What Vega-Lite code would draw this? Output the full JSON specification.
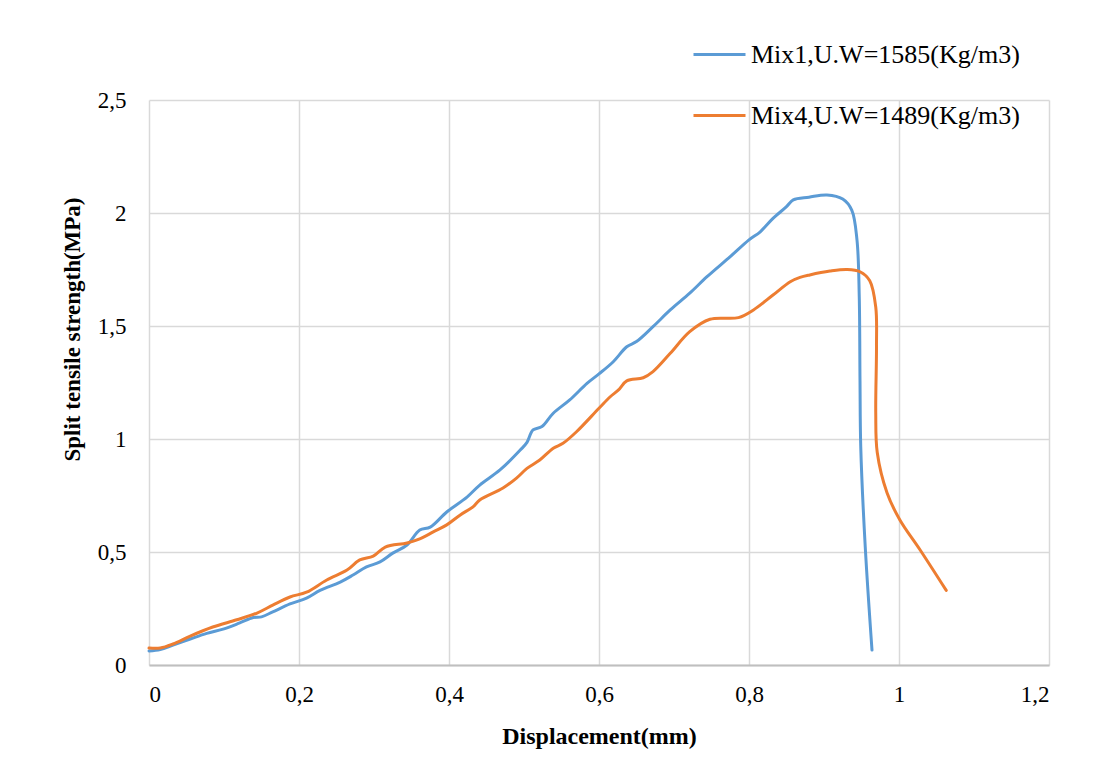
{
  "$schema": "https://vega.github.io/schema/vega-lite/v6.json",
  "autosize": {"type": "none"},
  "width": 900,
  "height": 565,
  "padding": {"left": 149, "top": 100, "right": 64, "bottom": 106},
  "background": "white",
  "config": {
    "view": {"stroke": null},
    "font": "Liberation Serif",
    "axis": {
      "labelFont": "Liberation Serif",
      "labelFontSize": 23,
      "labelColor": "#000000",
      "titleFont": "Liberation Serif",
      "titleFontWeight": "bold",
      "titleColor": "#000000",
      "gridColor": "#d9d9d9",
      "gridWidth": 1.5,
      "ticks": false,
      "tickSize": 0
    }
  },
  "data": {
    "values": [
      {"series": "Mix1,U.W=1585(Kg/m3)", "i": 1, "d": 0, "s": 0.062},
      {"series": "Mix1,U.W=1585(Kg/m3)", "i": 2, "d": 0.015, "s": 0.068},
      {"series": "Mix1,U.W=1585(Kg/m3)", "i": 3, "d": 0.032, "s": 0.088},
      {"series": "Mix1,U.W=1585(Kg/m3)", "i": 4, "d": 0.055, "s": 0.115},
      {"series": "Mix1,U.W=1585(Kg/m3)", "i": 5, "d": 0.077, "s": 0.14},
      {"series": "Mix1,U.W=1585(Kg/m3)", "i": 6, "d": 0.1, "s": 0.16},
      {"series": "Mix1,U.W=1585(Kg/m3)", "i": 7, "d": 0.121, "s": 0.186},
      {"series": "Mix1,U.W=1585(Kg/m3)", "i": 8, "d": 0.139, "s": 0.21},
      {"series": "Mix1,U.W=1585(Kg/m3)", "i": 9, "d": 0.15, "s": 0.213},
      {"series": "Mix1,U.W=1585(Kg/m3)", "i": 10, "d": 0.165, "s": 0.235},
      {"series": "Mix1,U.W=1585(Kg/m3)", "i": 11, "d": 0.188, "s": 0.27},
      {"series": "Mix1,U.W=1585(Kg/m3)", "i": 12, "d": 0.21, "s": 0.296},
      {"series": "Mix1,U.W=1585(Kg/m3)", "i": 13, "d": 0.228, "s": 0.33},
      {"series": "Mix1,U.W=1585(Kg/m3)", "i": 14, "d": 0.255, "s": 0.367},
      {"series": "Mix1,U.W=1585(Kg/m3)", "i": 15, "d": 0.272, "s": 0.398},
      {"series": "Mix1,U.W=1585(Kg/m3)", "i": 16, "d": 0.29, "s": 0.434},
      {"series": "Mix1,U.W=1585(Kg/m3)", "i": 17, "d": 0.308, "s": 0.456},
      {"series": "Mix1,U.W=1585(Kg/m3)", "i": 18, "d": 0.325, "s": 0.495},
      {"series": "Mix1,U.W=1585(Kg/m3)", "i": 19, "d": 0.344, "s": 0.531},
      {"series": "Mix1,U.W=1585(Kg/m3)", "i": 20, "d": 0.361, "s": 0.597},
      {"series": "Mix1,U.W=1585(Kg/m3)", "i": 21, "d": 0.375, "s": 0.61},
      {"series": "Mix1,U.W=1585(Kg/m3)", "i": 22, "d": 0.397, "s": 0.677},
      {"series": "Mix1,U.W=1585(Kg/m3)", "i": 23, "d": 0.424, "s": 0.743},
      {"series": "Mix1,U.W=1585(Kg/m3)", "i": 24, "d": 0.441, "s": 0.796},
      {"series": "Mix1,U.W=1585(Kg/m3)", "i": 25, "d": 0.468, "s": 0.863},
      {"series": "Mix1,U.W=1585(Kg/m3)", "i": 26, "d": 0.495, "s": 0.951},
      {"series": "Mix1,U.W=1585(Kg/m3)", "i": 27, "d": 0.504, "s": 0.985},
      {"series": "Mix1,U.W=1585(Kg/m3)", "i": 28, "d": 0.512, "s": 1.04},
      {"series": "Mix1,U.W=1585(Kg/m3)", "i": 29, "d": 0.524, "s": 1.055},
      {"series": "Mix1,U.W=1585(Kg/m3)", "i": 30, "d": 0.539, "s": 1.114},
      {"series": "Mix1,U.W=1585(Kg/m3)", "i": 31, "d": 0.561, "s": 1.173},
      {"series": "Mix1,U.W=1585(Kg/m3)", "i": 32, "d": 0.584, "s": 1.246},
      {"series": "Mix1,U.W=1585(Kg/m3)", "i": 33, "d": 0.6, "s": 1.288},
      {"series": "Mix1,U.W=1585(Kg/m3)", "i": 34, "d": 0.619, "s": 1.342},
      {"series": "Mix1,U.W=1585(Kg/m3)", "i": 35, "d": 0.637, "s": 1.408},
      {"series": "Mix1,U.W=1585(Kg/m3)", "i": 36, "d": 0.65, "s": 1.431},
      {"series": "Mix1,U.W=1585(Kg/m3)", "i": 37, "d": 0.672, "s": 1.497},
      {"series": "Mix1,U.W=1585(Kg/m3)", "i": 38, "d": 0.695, "s": 1.571},
      {"series": "Mix1,U.W=1585(Kg/m3)", "i": 39, "d": 0.721, "s": 1.645},
      {"series": "Mix1,U.W=1585(Kg/m3)", "i": 40, "d": 0.744, "s": 1.718},
      {"series": "Mix1,U.W=1585(Kg/m3)", "i": 41, "d": 0.775, "s": 1.807},
      {"series": "Mix1,U.W=1585(Kg/m3)", "i": 42, "d": 0.8, "s": 1.881},
      {"series": "Mix1,U.W=1585(Kg/m3)", "i": 43, "d": 0.815, "s": 1.917},
      {"series": "Mix1,U.W=1585(Kg/m3)", "i": 44, "d": 0.832, "s": 1.976},
      {"series": "Mix1,U.W=1585(Kg/m3)", "i": 45, "d": 0.85, "s": 2.028},
      {"series": "Mix1,U.W=1585(Kg/m3)", "i": 46, "d": 0.859, "s": 2.058},
      {"series": "Mix1,U.W=1585(Kg/m3)", "i": 47, "d": 0.88, "s": 2.07},
      {"series": "Mix1,U.W=1585(Kg/m3)", "i": 48, "d": 0.904, "s": 2.08},
      {"series": "Mix1,U.W=1585(Kg/m3)", "i": 49, "d": 0.925, "s": 2.062},
      {"series": "Mix1,U.W=1585(Kg/m3)", "i": 50, "d": 0.937, "s": 2.013},
      {"series": "Mix1,U.W=1585(Kg/m3)", "i": 51, "d": 0.944, "s": 1.88},
      {"series": "Mix1,U.W=1585(Kg/m3)", "i": 52, "d": 0.947, "s": 1.63},
      {"series": "Mix1,U.W=1585(Kg/m3)", "i": 53, "d": 0.948, "s": 1.26},
      {"series": "Mix1,U.W=1585(Kg/m3)", "i": 54, "d": 0.949, "s": 0.965},
      {"series": "Mix1,U.W=1585(Kg/m3)", "i": 55, "d": 0.955, "s": 0.522},
      {"series": "Mix1,U.W=1585(Kg/m3)", "i": 56, "d": 0.964, "s": 0.066},

      {"series": "Mix4,U.W=1489(Kg/m3)", "i": 1, "d": 0, "s": 0.075},
      {"series": "Mix4,U.W=1489(Kg/m3)", "i": 2, "d": 0.015, "s": 0.075},
      {"series": "Mix4,U.W=1489(Kg/m3)", "i": 3, "d": 0.032, "s": 0.093},
      {"series": "Mix4,U.W=1489(Kg/m3)", "i": 4, "d": 0.055, "s": 0.128},
      {"series": "Mix4,U.W=1489(Kg/m3)", "i": 5, "d": 0.085, "s": 0.168},
      {"series": "Mix4,U.W=1489(Kg/m3)", "i": 6, "d": 0.117, "s": 0.2},
      {"series": "Mix4,U.W=1489(Kg/m3)", "i": 7, "d": 0.144, "s": 0.23},
      {"series": "Mix4,U.W=1489(Kg/m3)", "i": 8, "d": 0.165, "s": 0.265},
      {"series": "Mix4,U.W=1489(Kg/m3)", "i": 9, "d": 0.188, "s": 0.301},
      {"series": "Mix4,U.W=1489(Kg/m3)", "i": 10, "d": 0.21, "s": 0.322},
      {"series": "Mix4,U.W=1489(Kg/m3)", "i": 11, "d": 0.237, "s": 0.376},
      {"series": "Mix4,U.W=1489(Kg/m3)", "i": 12, "d": 0.264, "s": 0.42},
      {"series": "Mix4,U.W=1489(Kg/m3)", "i": 13, "d": 0.281, "s": 0.465},
      {"series": "Mix4,U.W=1489(Kg/m3)", "i": 14, "d": 0.299, "s": 0.482},
      {"series": "Mix4,U.W=1489(Kg/m3)", "i": 15, "d": 0.315, "s": 0.522},
      {"series": "Mix4,U.W=1489(Kg/m3)", "i": 16, "d": 0.344, "s": 0.54},
      {"series": "Mix4,U.W=1489(Kg/m3)", "i": 17, "d": 0.361, "s": 0.558},
      {"series": "Mix4,U.W=1489(Kg/m3)", "i": 18, "d": 0.379, "s": 0.589},
      {"series": "Mix4,U.W=1489(Kg/m3)", "i": 19, "d": 0.397, "s": 0.62},
      {"series": "Mix4,U.W=1489(Kg/m3)", "i": 20, "d": 0.415, "s": 0.664},
      {"series": "Mix4,U.W=1489(Kg/m3)", "i": 21, "d": 0.432, "s": 0.7},
      {"series": "Mix4,U.W=1489(Kg/m3)", "i": 22, "d": 0.441, "s": 0.73},
      {"series": "Mix4,U.W=1489(Kg/m3)", "i": 23, "d": 0.472, "s": 0.783},
      {"series": "Mix4,U.W=1489(Kg/m3)", "i": 24, "d": 0.49, "s": 0.827},
      {"series": "Mix4,U.W=1489(Kg/m3)", "i": 25, "d": 0.504, "s": 0.87},
      {"series": "Mix4,U.W=1489(Kg/m3)", "i": 26, "d": 0.521, "s": 0.907},
      {"series": "Mix4,U.W=1489(Kg/m3)", "i": 27, "d": 0.539, "s": 0.959},
      {"series": "Mix4,U.W=1489(Kg/m3)", "i": 28, "d": 0.552, "s": 0.981},
      {"series": "Mix4,U.W=1489(Kg/m3)", "i": 29, "d": 0.57, "s": 1.032},
      {"series": "Mix4,U.W=1489(Kg/m3)", "i": 30, "d": 0.6, "s": 1.136},
      {"series": "Mix4,U.W=1489(Kg/m3)", "i": 31, "d": 0.615, "s": 1.187},
      {"series": "Mix4,U.W=1489(Kg/m3)", "i": 32, "d": 0.626, "s": 1.217},
      {"series": "Mix4,U.W=1489(Kg/m3)", "i": 33, "d": 0.637, "s": 1.257},
      {"series": "Mix4,U.W=1489(Kg/m3)", "i": 34, "d": 0.659, "s": 1.271},
      {"series": "Mix4,U.W=1489(Kg/m3)", "i": 35, "d": 0.672, "s": 1.298},
      {"series": "Mix4,U.W=1489(Kg/m3)", "i": 36, "d": 0.695, "s": 1.379},
      {"series": "Mix4,U.W=1489(Kg/m3)", "i": 37, "d": 0.721, "s": 1.475},
      {"series": "Mix4,U.W=1489(Kg/m3)", "i": 38, "d": 0.748, "s": 1.53},
      {"series": "Mix4,U.W=1489(Kg/m3)", "i": 39, "d": 0.786, "s": 1.537},
      {"series": "Mix4,U.W=1489(Kg/m3)", "i": 40, "d": 0.806, "s": 1.571},
      {"series": "Mix4,U.W=1489(Kg/m3)", "i": 41, "d": 0.832, "s": 1.637},
      {"series": "Mix4,U.W=1489(Kg/m3)", "i": 42, "d": 0.855, "s": 1.696},
      {"series": "Mix4,U.W=1489(Kg/m3)", "i": 43, "d": 0.868, "s": 1.715},
      {"series": "Mix4,U.W=1489(Kg/m3)", "i": 44, "d": 0.881, "s": 1.726},
      {"series": "Mix4,U.W=1489(Kg/m3)", "i": 45, "d": 0.908, "s": 1.743},
      {"series": "Mix4,U.W=1489(Kg/m3)", "i": 46, "d": 0.931, "s": 1.75},
      {"series": "Mix4,U.W=1489(Kg/m3)", "i": 47, "d": 0.948, "s": 1.74},
      {"series": "Mix4,U.W=1489(Kg/m3)", "i": 48, "d": 0.961, "s": 1.7},
      {"series": "Mix4,U.W=1489(Kg/m3)", "i": 49, "d": 0.969, "s": 1.584},
      {"series": "Mix4,U.W=1489(Kg/m3)", "i": 50, "d": 0.97, "s": 1.41},
      {"series": "Mix4,U.W=1489(Kg/m3)", "i": 51, "d": 0.969, "s": 1.115},
      {"series": "Mix4,U.W=1489(Kg/m3)", "i": 52, "d": 0.971, "s": 0.94},
      {"series": "Mix4,U.W=1489(Kg/m3)", "i": 53, "d": 0.984, "s": 0.762},
      {"series": "Mix4,U.W=1489(Kg/m3)", "i": 54, "d": 1.001, "s": 0.643},
      {"series": "Mix4,U.W=1489(Kg/m3)", "i": 55, "d": 1.028, "s": 0.51},
      {"series": "Mix4,U.W=1489(Kg/m3)", "i": 56, "d": 1.063, "s": 0.33}
    ]
  },
  "mark": {"type": "line", "strokeWidth": 3, "interpolate": "catmull-rom", "strokeCap": "round", "strokeJoin": "round"},
  "encoding": {
    "x": {
      "field": "d",
      "type": "quantitative",
      "scale": {"domain": [0, 1.2], "nice": false, "zero": false},
      "axis": {
        "values": [0, 0.2, 0.4, 0.6, 0.8, 1, 1.2],
        "labelExpr": "replace(format(datum.value, '.1~f'), '.', ',')",
        "labelPadding": 18,
        "title": "Displacement(mm)",
        "titleFontSize": 24,
        "titlePadding": 18,
        "domainColor": "#bfbfbf",
        "domainWidth": 2
      }
    },
    "y": {
      "field": "s",
      "type": "quantitative",
      "scale": {"domain": [0, 2.5], "nice": false},
      "axis": {
        "values": [0, 0.5, 1, 1.5, 2, 2.5],
        "labelExpr": "replace(format(datum.value, '.1~f'), '.', ',')",
        "labelPadding": 23,
        "title": "Split tensile strength(MPa)",
        "titleFontSize": 23,
        "titlePadding": 13,
        "titleY": 229,
        "domain": false
      }
    },
    "order": {"field": "i", "type": "quantitative"},
    "color": {
      "field": "series",
      "type": "nominal",
      "scale": {"domain": ["Mix1,U.W=1585(Kg/m3)", "Mix4,U.W=1489(Kg/m3)"], "range": ["#5b9bd5", "#ed7d31"]},
      "legend": {
        "title": null,
        "orient": "none",
        "legendX": 543,
        "legendY": -73,
        "padding": 0,
        "symbolType": "stroke",
        "symbolSize": 2704,
        "symbolStrokeWidth": 3,
        "labelFont": "Liberation Serif",
        "labelFontSize": 26,
        "labelColor": "#000000",
        "labelOffset": 4,
        "labelLimit": 400,
        "rowPadding": 20
      }
    }
  }
}
